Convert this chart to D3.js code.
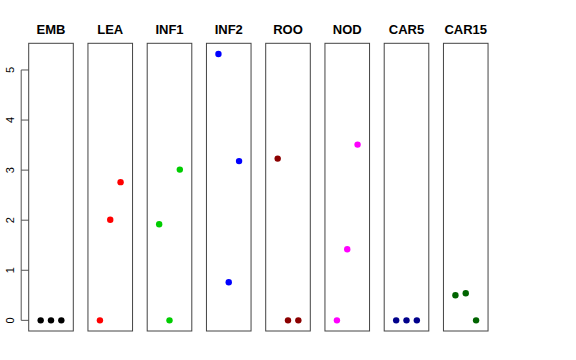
<!DOCTYPE html>
<html>
<head>
<meta charset="utf-8">
<script src="https://cdn.jsdelivr.net/npm/d3@7"></script>
<style>
  body { margin: 0; background: #fff; }
  svg { font-family: "Liberation Sans", Arial, sans-serif; }
</style>
</head>
<body>
<svg id="chart" width="576" height="360"></svg>
<script>
// Tissues, one panel each
var tissues = ["EMB", "LEA", "INF1", "INF2", "ROO", "NOD", "CAR5", "CAR15"];
var colors = ["#000000", "#ff0000", "#00cd00", "#0000ff", "#8b0000", "#ff00ff", "#00008b", "#006400"];
// three replicates per tissue (x = 1, 2, 3)
var replicates = [1, 2, 3];
var values = [
    [0, 0, 0],
    [0, 2.01, 2.76],
    [1.92, 0, 3.01],
    [5.32, 0.76, 3.18],
    [3.23, 0, 0],
    [0, 1.42, 3.51],
    [0, 0, 0],
    [0.50, 0.54, 0]
];
var yTicks = [0, 1, 2, 3, 4, 5];

var svg = d3.select("#chart");

var panelLeft = 28.7, panelPitch = 59.25, panelWidth = 44.6;
var plotTop = 43.3, plotBottom = 331;

// R-style 4% padding
var yMax = d3.max(values, function (v) { return d3.max(v); });
var yPad = yMax * 0.04;
var y = d3.scaleLinear().domain([-yPad, yMax + yPad]).range([plotBottom, plotTop]);
var x = d3.scaleLinear().domain([-0.16, 4.16]).range([0, panelWidth]);

// Y axis on first panel
var yAxis = svg.append("g")
    .attr("transform", "translate(" + panelLeft + ",0)");
yAxis.append("line")
    .attr("x1", -7.5).attr("x2", -7.5)
    .attr("y1", y(0)).attr("y2", y(5))
    .attr("stroke", "#555");
yTicks.forEach(function (t) {
    yAxis.append("line")
        .attr("x1", -7.5).attr("x2", 0)
        .attr("y1", y(t)).attr("y2", y(t))
        .attr("stroke", "#555");
    yAxis.append("text")
        .attr("transform", "translate(-15," + y(t) + ") rotate(-90)")
        .attr("text-anchor", "middle")
        .attr("font-size", "11px")
        .text(t);
});

var panels = svg.selectAll("g.panel")
    .data(tissues)
    .enter()
    .append("g")
    .attr("class", "panel")
    .attr("transform", function (d, i) {
        return "translate(" + (panelLeft + i * panelPitch) + ",0)";
    });

panels.append("rect")
    .attr("x", 0).attr("y", plotTop)
    .attr("width", panelWidth).attr("height", plotBottom - plotTop)
    .attr("fill", "none")
    .attr("stroke", "#444");

panels.append("text")
    .attr("x", panelWidth / 2)
    .attr("y", 34)
    .attr("text-anchor", "middle")
    .attr("font-size", "13px")
    .attr("font-weight", "bold")
    .text(function (d) { return d; });

panels.each(function (d, i) {
    d3.select(this).selectAll("circle")
        .data(values[i])
        .enter()
        .append("circle")
        .attr("cx", function (v, j) { return x(replicates[j]); })
        .attr("cy", function (v) { return y(v); })
        .attr("r", 3.2)
        .attr("fill", colors[i]);
});
</script>
</body>
</html>
